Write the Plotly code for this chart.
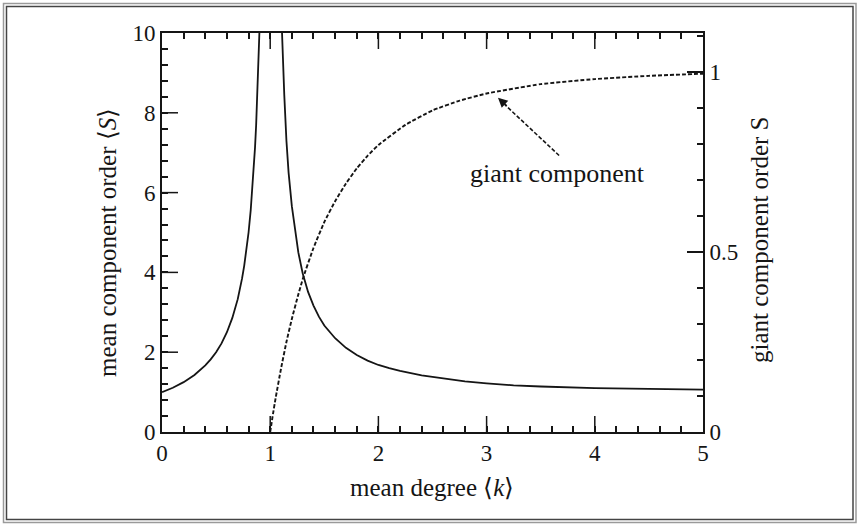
import plotly.graph_objects as go

# Mean component order below the transition (k < 1)
k_below = [0.0, 0.1, 0.2, 0.3, 0.4, 0.45, 0.5, 0.55, 0.6, 0.65, 0.7, 0.72, 0.74, 0.76, 0.78, 0.8, 0.82,
           0.84, 0.85, 0.86, 0.87, 0.88, 0.89, 0.9]
s_below = [1.0, 1.11, 1.25, 1.43, 1.67, 1.82, 2.0, 2.22, 2.5, 2.86, 3.33, 3.57, 3.85, 4.17, 4.55, 5.0, 5.56,
           6.25, 6.67, 7.14, 7.69, 8.33, 9.09, 10.0]

# Mean component order above the transition (k > 1)
k_above = [1.1, 1.11, 1.12, 1.13, 1.15, 1.17, 1.2, 1.23, 1.26, 1.3, 1.35, 1.4, 1.45, 1.5, 1.6, 1.7, 1.8, 1.9,
           2.0, 2.1, 2.2, 2.4, 2.6, 2.8, 3.0, 3.25, 3.5, 4.0, 4.5, 5.0]
s_above = [10.7, 9.85, 9.1, 8.45, 7.3, 6.5, 5.66, 5.02, 4.5, 3.98, 3.51, 3.17, 2.89, 2.67, 2.35, 2.11, 1.93, 1.79,
           1.68, 1.6, 1.53, 1.42, 1.34, 1.27, 1.22, 1.17, 1.14, 1.1, 1.08, 1.06]

# Giant component order
k_giant = [1.0, 1.02, 1.05, 1.1, 1.15, 1.2, 1.25, 1.3, 1.4, 1.5, 1.6, 1.7, 1.8, 1.9, 2.0, 2.25, 2.5, 2.75,
           3.0, 3.5, 4.0, 4.5, 5.0]
s_giant = [0.0, 0.039, 0.094, 0.176, 0.25, 0.314, 0.371, 0.424, 0.511, 0.583, 0.641, 0.69, 0.732, 0.767,
           0.797, 0.853, 0.893, 0.92, 0.94, 0.966, 0.98, 0.989, 0.995]

# Axis ticks
x_range, y_range, s_range = [0, 5], [0, 10], [0, 1.108]
x_ticks = [0, 1, 2, 3, 4, 5]
y_ticks = [0, 2, 4, 6, 8, 10]
s_ticks = [0, 0.5, 1]
x_labels = ["0", "1", "2", "3", "4", "5"]
y_labels = ["0", "2", "4", "6", "8", "10"]
s_labels = ["0", "0.5", "1"]

W, H = 860, 527
L, R, T, B = 162, 157, 33, 95
PW, PH = W - L - R, H - T - B
MAJOR_LEN = 16


def px(x):
    return (x - L) / PW


def py(y):
    return (H - B - y) / PH


FONT = "Liberation Serif"
INK = "#151515"

fig = go.Figure()
fig.add_trace(go.Scatter(x=k_below, y=s_below, mode="lines", line=dict(color=INK, width=1.8), showlegend=False))
fig.add_trace(go.Scatter(x=k_above, y=s_above, mode="lines", line=dict(color=INK, width=1.8), showlegend=False))
fig.add_trace(go.Scatter(x=k_giant, y=s_giant, mode="lines", yaxis="y2",
                         line=dict(color=INK, width=1.9, dash="4px,2px", shape="spline", smoothing=0.4),
                         showlegend=False))

tickfont = dict(family=FONT, size=23, color=INK)
line = dict(showline=True, linecolor=INK, linewidth=1.6, showgrid=False, zeroline=False)
tick_minor = dict(ticks="inside", ticklen=6, tickwidth=1.5, tickcolor=INK, showticklabels=False)

fig.update_layout(
    width=W, height=H,
    margin=dict(l=L, r=R, t=T, b=B, pad=0),
    paper_bgcolor="white", plot_bgcolor="white",
    # labelled axes
    xaxis=dict(range=x_range, tickvals=x_ticks, ticktext=x_labels, tickfont=tickfont, ticks="",
               mirror=True, **line),
    yaxis=dict(range=y_range, tickvals=y_ticks, ticktext=y_labels, tickfont=tickfont, ticks="", **line),
    yaxis2=dict(range=s_range, tickvals=s_ticks, ticktext=s_labels, overlaying="y", side="right", anchor="x",
                tickfont=tickfont, ticks="inside", ticklen=MAJOR_LEN, tickwidth=1.5, tickcolor=INK, **line),
    # minor ticks on companion axes
    xaxis3=dict(range=x_range, dtick=0.2, overlaying="x", side="bottom", anchor="y", mirror="ticks",
                **tick_minor, **line),
    yaxis4=dict(range=y_range, dtick=0.4, overlaying="y", side="left", anchor="x", **tick_minor, **line),
    yaxis5=dict(range=s_range, dtick=0.1, overlaying="y", side="right", anchor="x", **tick_minor, **line),
)

# empty carriers so the companion axes are drawn
for xa, ya in [("x3", "y4"), ("x3", "y5")]:
    fig.add_trace(go.Scatter(x=x_range, y=[0, 0], xaxis=xa, yaxis=ya, mode="none", showlegend=False,
                             hoverinfo="skip"))

# Long inward major tick marks on the bottom/top and left edges
tick_line = dict(color=INK, width=1.5)
for v in x_ticks[1:-1]:
    fig.add_shape(type="line", xref="x", yref="y", ysizemode="pixel", yanchor=y_range[0],
                  x0=v, x1=v, y0=0, y1=MAJOR_LEN, line=tick_line)
    fig.add_shape(type="line", xref="x", yref="y", ysizemode="pixel", yanchor=y_range[1],
                  x0=v, x1=v, y0=0, y1=-MAJOR_LEN, line=tick_line)
for v in y_ticks[1:-1]:
    fig.add_shape(type="line", xref="x", yref="y", xsizemode="pixel", xanchor=x_range[0],
                  x0=0, x1=MAJOR_LEN, y0=v, y1=v, line=tick_line)

titlefont = dict(family=FONT, size=25, color=INK)
fig.add_annotation(text="mean degree \u27e8<i>k</i>\u27e9", xref="paper", yref="paper",
                   x=px(432), y=py(487), xanchor="center", yanchor="middle", showarrow=False, font=titlefont)
fig.add_annotation(text="mean component order \u27e8<i>S</i>\u27e9", xref="paper", yref="paper",
                   x=px(107), y=py(243), xanchor="center", yanchor="middle", textangle=-90,
                   showarrow=False, font=titlefont)
fig.add_annotation(text="giant component order S", xref="paper", yref="paper",
                   x=px(759), y=py(240), xanchor="center", yanchor="middle", textangle=-90,
                   showarrow=False, font=titlefont)

# Label with dashed pointer to the giant component curve
fig.add_annotation(text="giant component", x=3.655, y=6.49, xref="x", yref="y",
                   showarrow=False, font=dict(family=FONT, size=26, color=INK))
fig.add_shape(type="line", x0=3.67, y0=6.93, x1=3.17, y1=8.2, xref="x", yref="y",
              line=dict(color=INK, width=1.6, dash="4px,2px"))
fig.add_annotation(text="", x=3.105, y=8.38, ax=3.2, ay=8.14, xref="x", yref="y", axref="x", ayref="y",
                   showarrow=True, arrowhead=2, arrowsize=1.2, arrowwidth=1.6, arrowcolor=INK)

# Bevelled picture frame
fig.add_shape(type="rect", xref="paper", yref="paper", x0=px(3.5), x1=px(856), y0=py(522.5), y1=py(3.5),
              line=dict(color="#9a9a9a", width=1.5))
fig.add_shape(type="rect", xref="paper", yref="paper", x0=px(6.5), x1=px(853), y0=py(519.5), y1=py(6.5),
              line=dict(color="#444444", width=1.5))

fig.write_html("out.html")
